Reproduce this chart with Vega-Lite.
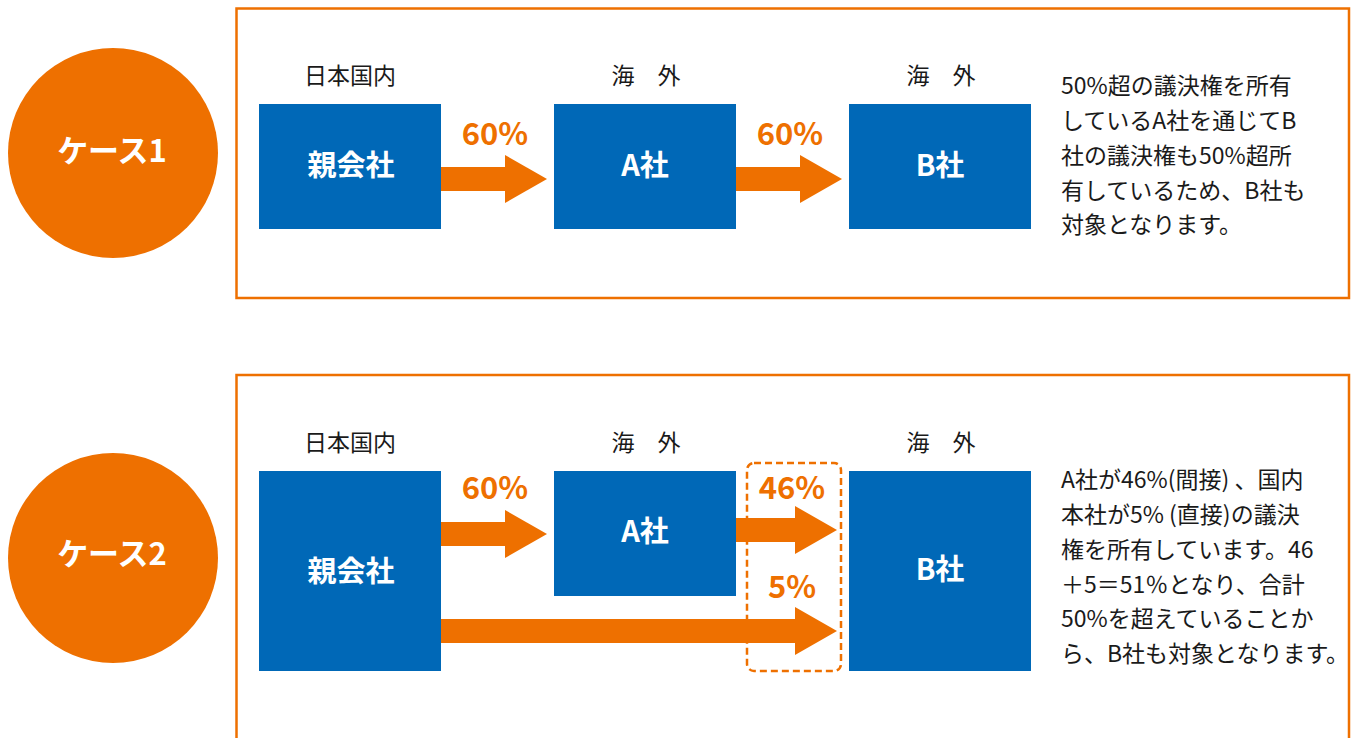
{
  "$schema": "https://vega.github.io/schema/vega-lite/v6.json",
  "width": 1353,
  "height": 738,
  "autosize": "none",
  "padding": 0,
  "background": "#ffffff",
  "config": {"view": {"stroke": null}},
  "layer": [
    {
      "data": {"values": [
        {"case": "ケース1", "x": 236.5, "x2": 1349, "y": 8.5, "y2": 298},
        {"case": "ケース2", "x": 236.5, "x2": 1349, "y": 375, "y2": 760}
      ]},
      "mark": {"type": "rect", "fill": null, "stroke": "#EE7000", "strokeWidth": 2.5},
      "encoding": {
        "x": {"field": "x", "type": "quantitative", "scale": {"domain": [0, 1353]}, "axis": null},
        "x2": {"field": "x2"},
        "y": {"field": "y", "type": "quantitative", "scale": {"domain": [0, 738], "reverse": true}, "axis": null},
        "y2": {"field": "y2"}
      }
    },
    {
      "data": {"values": [
        {"label": "ケース1", "x": 113, "y": 153},
        {"label": "ケース2", "x": 113, "y": 558}
      ]},
      "mark": {"type": "point", "shape": "circle", "filled": true, "color": "#EE7000", "opacity": 1, "size": 44100, "strokeWidth": 0},
      "encoding": {
        "x": {"field": "x", "type": "quantitative", "scale": {"domain": [0, 1353]}, "axis": null},
        "y": {"field": "y", "type": "quantitative", "scale": {"domain": [0, 738], "reverse": true}, "axis": null}
      }
    },
    {
      "data": {"values": [
        {"label": "ケース1", "x": 112, "y": 153},
        {"label": "ケース2", "x": 112, "y": 556}
      ]},
      "mark": {"type": "text", "font": "Noto Sans CJK JP", "fontWeight": "bold", "fontSize": 31, "color": "#ffffff", "align": "center", "baseline": "middle"},
      "encoding": {
        "x": {"field": "x", "type": "quantitative", "scale": {"domain": [0, 1353]}, "axis": null},
        "y": {"field": "y", "type": "quantitative", "scale": {"domain": [0, 738], "reverse": true}, "axis": null},
        "text": {"field": "label"}
      }
    },
    {
      "data": {"values": [
        {"name": "親会社", "x": 259, "x2": 441, "y": 104, "y2": 229},
        {"name": "A社", "x": 554, "x2": 736, "y": 104, "y2": 229},
        {"name": "B社", "x": 849, "x2": 1031, "y": 104, "y2": 229},
        {"name": "親会社", "x": 259, "x2": 441, "y": 471, "y2": 671},
        {"name": "A社", "x": 554, "x2": 736, "y": 471, "y2": 596},
        {"name": "B社", "x": 849, "x2": 1031, "y": 471, "y2": 671}
      ]},
      "mark": {"type": "rect", "color": "#0068B7"},
      "encoding": {
        "x": {"field": "x", "type": "quantitative", "scale": {"domain": [0, 1353]}, "axis": null},
        "x2": {"field": "x2"},
        "y": {"field": "y", "type": "quantitative", "scale": {"domain": [0, 738], "reverse": true}, "axis": null},
        "y2": {"field": "y2"}
      }
    },
    {
      "data": {"values": [
        {"name": "親会社", "x": 351, "y": 167},
        {"name": "A社", "x": 645, "y": 167},
        {"name": "B社", "x": 940, "y": 167},
        {"name": "親会社", "x": 351, "y": 573},
        {"name": "A社", "x": 645, "y": 533},
        {"name": "B社", "x": 940, "y": 571}
      ]},
      "mark": {"type": "text", "font": "Noto Sans CJK JP", "fontWeight": "bold", "fontSize": 29, "color": "#ffffff", "align": "center", "baseline": "middle"},
      "encoding": {
        "x": {"field": "x", "type": "quantitative", "scale": {"domain": [0, 1353]}, "axis": null},
        "y": {"field": "y", "type": "quantitative", "scale": {"domain": [0, 738], "reverse": true}, "axis": null},
        "text": {"field": "name"}
      }
    },
    {
      "data": {"values": [
        {"label": "日本国内", "x": 350, "y": 77},
        {"label": "海　外", "x": 646, "y": 77},
        {"label": "海　外", "x": 941, "y": 77},
        {"label": "日本国内", "x": 350, "y": 444},
        {"label": "海　外", "x": 646, "y": 444},
        {"label": "海　外", "x": 941, "y": 444}
      ]},
      "mark": {"type": "text", "font": "Noto Sans CJK JP", "fontSize": 23, "color": "#1a1a1a", "align": "center", "baseline": "middle"},
      "encoding": {
        "x": {"field": "x", "type": "quantitative", "scale": {"domain": [0, 1353]}, "axis": null},
        "y": {"field": "y", "type": "quantitative", "scale": {"domain": [0, 738], "reverse": true}, "axis": null},
        "text": {"field": "label"}
      }
    },
    {
      "data": {"values": [
        {"share": "60%", "x": 441, "x2": 506, "y": 167, "y2": 191},
        {"share": "60%", "x": 736, "x2": 801, "y": 167, "y2": 191},
        {"share": "60%", "x": 441, "x2": 506, "y": 522, "y2": 546},
        {"share": "46%", "x": 736, "x2": 797, "y": 518, "y2": 542},
        {"share": "5%", "x": 441, "x2": 797, "y": 619, "y2": 643}
      ]},
      "mark": {"type": "rect", "color": "#EE7000"},
      "encoding": {
        "x": {"field": "x", "type": "quantitative", "scale": {"domain": [0, 1353]}, "axis": null},
        "x2": {"field": "x2"},
        "y": {"field": "y", "type": "quantitative", "scale": {"domain": [0, 738], "reverse": true}, "axis": null},
        "y2": {"field": "y2"}
      }
    },
    {
      "data": {"values": [
        {"share": "60%", "x": 526, "y": 179},
        {"share": "60%", "x": 821, "y": 179},
        {"share": "60%", "x": 526, "y": 534},
        {"share": "46%", "x": 816, "y": 530},
        {"share": "5%", "x": 816, "y": 631}
      ]},
      "mark": {"type": "point", "shape": "M -0.875 -1 L 0.875 0 L -0.875 1 Z", "filled": true, "color": "#EE7000", "opacity": 1, "size": 2304, "strokeWidth": 0},
      "encoding": {
        "x": {"field": "x", "type": "quantitative", "scale": {"domain": [0, 1353]}, "axis": null},
        "y": {"field": "y", "type": "quantitative", "scale": {"domain": [0, 738], "reverse": true}, "axis": null}
      }
    },
    {
      "data": {"values": [
        {"share": "60%", "x": 495, "y": 136},
        {"share": "60%", "x": 790, "y": 136},
        {"share": "60%", "x": 495, "y": 490},
        {"share": "46%", "x": 792, "y": 490},
        {"share": "5%", "x": 792, "y": 589}
      ]},
      "mark": {"type": "text", "font": "Noto Sans CJK JP", "fontWeight": "bold", "fontSize": 31, "color": "#EE7000", "align": "center", "baseline": "middle"},
      "encoding": {
        "x": {"field": "x", "type": "quantitative", "scale": {"domain": [0, 1353]}, "axis": null},
        "y": {"field": "y", "type": "quantitative", "scale": {"domain": [0, 738], "reverse": true}, "axis": null},
        "text": {"field": "share"}
      }
    },
    {
      "data": {"values": [
        {"x": 747, "x2": 841, "y": 463, "y2": 671}
      ]},
      "mark": {"type": "rect", "fill": null, "stroke": "#EE7000", "strokeWidth": 2.5, "strokeDash": [7, 4], "cornerRadius": 7},
      "encoding": {
        "x": {"field": "x", "type": "quantitative", "scale": {"domain": [0, 1353]}, "axis": null},
        "x2": {"field": "x2"},
        "y": {"field": "y", "type": "quantitative", "scale": {"domain": [0, 738], "reverse": true}, "axis": null},
        "y2": {"field": "y2"}
      }
    },
    {
      "data": {"values": [
        {"line": "50%超の議決権を所有", "x": 1061, "y": 87},
        {"line": "しているA社を通じてB", "x": 1061, "y": 122},
        {"line": "社の議決権も50%超所", "x": 1061, "y": 157},
        {"line": "有しているため、B社も", "x": 1061, "y": 192},
        {"line": "対象となります。", "x": 1061, "y": 226},
        {"line": "A社が46%(間接) 、国内", "x": 1061, "y": 481},
        {"line": "本社が5% (直接)の議決", "x": 1061, "y": 516},
        {"line": "権を所有しています。46", "x": 1061, "y": 551},
        {"line": "＋5＝51％となり、合計", "x": 1061, "y": 586},
        {"line": "50%を超えていることか", "x": 1061, "y": 620},
        {"line": "ら、B社も対象となります。", "x": 1061, "y": 655}
      ]},
      "mark": {"type": "text", "font": "Noto Sans CJK JP", "fontSize": 23, "color": "#1a1a1a", "align": "left", "baseline": "middle"},
      "encoding": {
        "x": {"field": "x", "type": "quantitative", "scale": {"domain": [0, 1353]}, "axis": null},
        "y": {"field": "y", "type": "quantitative", "scale": {"domain": [0, 738], "reverse": true}, "axis": null},
        "text": {"field": "line"}
      }
    }
  ]
}
